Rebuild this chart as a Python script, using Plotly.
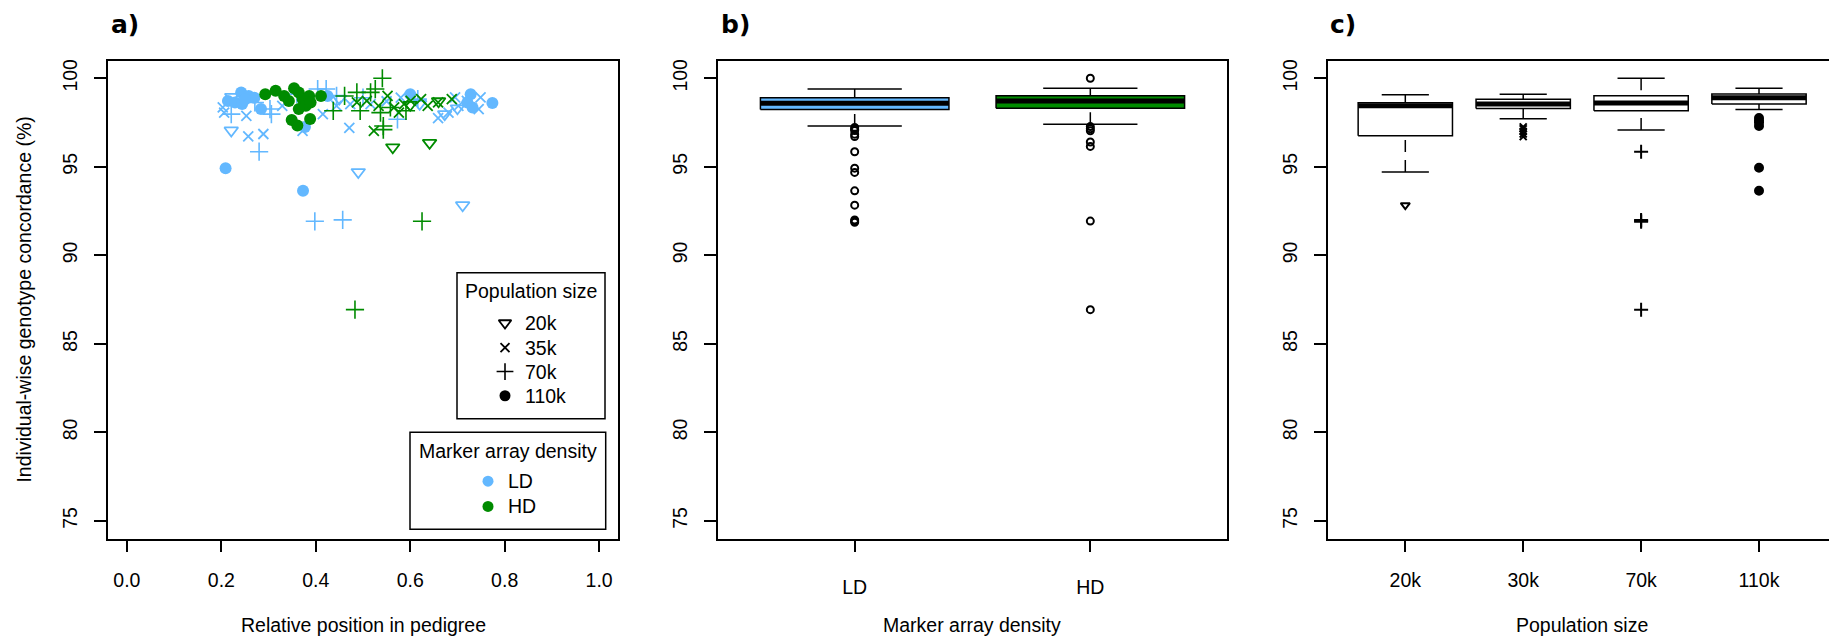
import plotly.graph_objects as go

W, H = 1829, 637

# ---------------- Panel a data (scatter) ----------------
ld_20k_x = [0.222, 0.221, 0.673, 0.490, 0.711, 0.450, 0.620, 0.700]
ld_20k_y = [98.95, 97.05, 97.97, 94.70, 92.83, 98.85, 98.55, 98.30]
ld_35k_x = [0.203, 0.206, 0.253, 0.257, 0.289, 0.329, 0.372, 0.415, 0.444, 0.471, 0.473,
            0.516, 0.659, 0.681, 0.695, 0.720, 0.745, 0.749, 0.702, 0.550, 0.580]
ld_35k_y = [98.35, 98.06, 97.87, 96.72, 96.85, 98.44, 97.02, 97.97, 98.44, 97.20, 98.54,
            98.54, 97.75, 98.06, 98.92, 98.72, 98.26, 98.92, 98.44, 98.70, 98.90]
ld_70k_x = [0.221, 0.271, 0.303, 0.306, 0.280, 0.404, 0.422, 0.444, 0.573, 0.616, 0.398,
            0.457, 0.360, 0.500]
ld_70k_y = [97.97, 98.63, 98.26, 97.97, 95.85, 99.39, 99.39, 99.00, 97.68, 98.82, 91.92,
            92.00, 99.10, 98.90]
ld_110k_x = [0.214, 0.229, 0.242, 0.258, 0.244, 0.284, 0.425, 0.600, 0.728, 0.721, 0.732,
             0.774, 0.377, 0.209, 0.373, 0.270, 0.250]
ld_110k_y = [98.72, 98.63, 99.20, 99.00, 98.54, 98.26, 99.00, 99.10, 99.10, 98.63, 98.35,
             98.60, 97.25, 94.92, 93.64, 98.90, 98.80]

hd_20k_x = [0.563, 0.641, 0.600, 0.660]
hd_20k_y = [96.10, 96.35, 98.50, 98.70]
hd_35k_x = [0.487, 0.508, 0.523, 0.552, 0.566, 0.587, 0.601, 0.623, 0.637, 0.659, 0.688,
            0.533, 0.576]
hd_35k_y = [98.63, 98.72, 97.02, 99.00, 98.35, 98.54, 98.72, 98.82, 98.44, 98.63, 98.82,
            98.44, 98.06]
hd_70k_x = [0.541, 0.437, 0.461, 0.487, 0.494, 0.516, 0.526, 0.537, 0.543, 0.543, 0.558,
            0.591, 0.625, 0.483]
hd_70k_y = [100.00, 98.16, 99.00, 99.20, 98.16, 99.20, 99.39, 98.06, 97.30, 97.10, 98.35,
            98.16, 91.92, 86.93]
hd_110k_x = [0.293, 0.315, 0.333, 0.354, 0.364, 0.372, 0.379, 0.386, 0.389, 0.411, 0.349,
             0.361, 0.388, 0.364, 0.343]
hd_110k_y = [99.10, 99.29, 99.00, 99.44, 99.20, 98.82, 98.44, 99.00, 98.63, 99.00, 97.64,
             97.33, 97.70, 98.26, 98.72]

x_ticks_a = [0.0, 0.2, 0.4, 0.6, 0.8, 1.0]
x_ticklabels_a = ["0.0", "0.2", "0.4", "0.6", "0.8", "1.0"]
y_ticks = [75, 80, 85, 90, 95, 100]

# ---------------- Panel b data (box stats) ----------------
b_categories = ["LD", "HD"]
b_lower = [97.30, 97.40]
b_q1 = [98.23, 98.31]
b_median = [98.59, 98.72]
b_q3 = [98.90, 99.01]
b_upper = [99.39, 99.44]
b_outliers = [
    [97.22, 97.12, 97.05, 96.84, 96.71, 95.85, 94.92, 94.68, 93.64, 92.83, 92.00, 91.92, 91.86],
    [100.00, 97.27, 97.14, 97.03, 96.40, 96.15, 91.93, 86.93],
]

# ---------------- Panel c data (box stats) ----------------
c_categories = ["20k", "30k", "70k", "110k"]
c_lower = [94.70, 97.71, 97.08, 98.23]
c_q1 = [96.75, 98.29, 98.16, 98.55]
c_median = [98.45, 98.55, 98.60, 98.90]
c_q3 = [98.62, 98.81, 99.01, 99.11]
c_upper = [99.07, 99.09, 100.00, 99.44]
c_outliers = [
    [92.83],
    [97.25, 97.15, 97.00, 96.85, 96.70],
    [95.85, 92.00, 91.95, 91.90, 86.93],
    [97.75, 97.60, 97.50, 97.30, 94.94, 93.64],
]

# ---------------- Styles ----------------
LD_COL = "#63B8FF"
HD_COL = "#008B00"
FONT = "Liberation Sans, Arial, sans-serif"
FS = 19.5
LW = 1.5

sym_style = {
    "20k": dict(symbol="triangle-down-open", size=12, line=dict(width=1.8)),
    "35k": dict(symbol="x-thin-open", size=10, line=dict(width=1.8)),
    "70k": dict(symbol="cross-thin-open", size=13, line=dict(width=1.6)),
    "110k": dict(symbol="circle", size=12, line=dict(width=0)),
}

fig = go.Figure()


def add_scatter(xs, ys, key, color):
    st = sym_style[key]
    fig.add_trace(go.Scatter(
        x=xs, y=ys, mode="markers", xaxis="x", yaxis="y", showlegend=False,
        marker=dict(symbol=st["symbol"], size=st["size"], color=color,
                    line=dict(width=st["line"]["width"], color=color)),
        hoverinfo="skip"))


for xs, ys, k in [(ld_20k_x, ld_20k_y, "20k"), (ld_35k_x, ld_35k_y, "35k"),
                  (ld_70k_x, ld_70k_y, "70k"), (ld_110k_x, ld_110k_y, "110k")]:
    add_scatter(xs, ys, k, LD_COL)
for xs, ys, k in [(hd_20k_x, hd_20k_y, "20k"), (hd_35k_x, hd_35k_y, "35k"),
                  (hd_70k_x, hd_70k_y, "70k"), (hd_110k_x, hd_110k_y, "110k")]:
    add_scatter(xs, ys, k, HD_COL)


def add_boxes(xa, ya, lower, q1, med, q3, upper, fills):
    for i in range(len(q1)):
        p = i + 1
        fig.add_trace(go.Scatter(
            x=[p - 0.4, p + 0.4, p + 0.4, p - 0.4, p - 0.4],
            y=[q1[i], q1[i], q3[i], q3[i], q1[i]],
            mode="lines", fill="toself", fillcolor=fills[i],
            line=dict(color="black", width=LW), xaxis=xa, yaxis=ya,
            showlegend=False, hoverinfo="skip"))
        fig.add_trace(go.Scatter(
            x=[p - 0.4, p + 0.4], y=[med[i], med[i]], mode="lines",
            line=dict(color="black", width=5), xaxis=xa, yaxis=ya,
            showlegend=False, hoverinfo="skip"))
        for a, b in [(lower[i], q1[i]), (upper[i], q3[i])]:
            fig.add_trace(go.Scatter(
                x=[p, p], y=[a, b], mode="lines",
                line=dict(color="black", width=LW, dash="12px,8px"),
                xaxis=xa, yaxis=ya, showlegend=False, hoverinfo="skip"))
            fig.add_trace(go.Scatter(
                x=[p - 0.2, p + 0.2], y=[a, a], mode="lines",
                line=dict(color="black", width=LW),
                xaxis=xa, yaxis=ya, showlegend=False, hoverinfo="skip"))


add_boxes("x2", "y2", b_lower, b_q1, b_median, b_q3, b_upper, [LD_COL, HD_COL])
for i, outs in enumerate(b_outliers):
    fig.add_trace(go.Scatter(
        x=[i + 1] * len(outs), y=outs, mode="markers", xaxis="x2", yaxis="y2",
        marker=dict(symbol="circle-open", size=7, color="black", line=dict(width=2, color="black")),
        showlegend=False, hoverinfo="skip"))

add_boxes("x3", "y3", c_lower, c_q1, c_median, c_q3, c_upper, ["white"] * 4)
c_syms = [dict(symbol="triangle-down-open", size=8),
          dict(symbol="x-thin-open", size=7),
          dict(symbol="cross-thin-open", size=10),
          dict(symbol="circle", size=8)]
for i, outs in enumerate(c_outliers):
    fig.add_trace(go.Scatter(
        x=[i + 1] * len(outs), y=outs, mode="markers", xaxis="x3", yaxis="y3",
        marker=dict(symbol=c_syms[i]["symbol"], size=c_syms[i]["size"], color="black",
                    line=dict(width=2, color="black")),
        showlegend=False, hoverinfo="skip"))

# ---------------- Legend (pixel overlay) ----------------
leg_pop_labels = ["20k", "35k", "70k", "110k"]
leg_pop_y = [322, 346.7, 370.7, 395]
for lab, yy in zip(leg_pop_labels, leg_pop_y):
    st = sym_style[lab]
    fig.add_trace(go.Scatter(
        x=[505], y=[yy], mode="markers", xaxis="x4", yaxis="y4",
        marker=dict(symbol=st["symbol"], size=st["size"] - 1, color="black",
                    line=dict(width=st["line"]["width"], color="black")),
        showlegend=False, hoverinfo="skip"))
leg_den_labels = ["LD", "HD"]
leg_den_cols = [LD_COL, HD_COL]
leg_den_y = [480.7, 506]
for col, yy in zip(leg_den_cols, leg_den_y):
    fig.add_trace(go.Scatter(
        x=[488], y=[yy], mode="markers", xaxis="x4", yaxis="y4",
        marker=dict(symbol="circle", size=11, color=col),
        showlegend=False, hoverinfo="skip"))


def px(xp):
    return xp / W


def py(yp):
    return 1 - yp / H


annotations = []
shapes = []


def text(x, y, s, size=FS, xanchor="center", angle=0, family=FONT):
    annotations.append(dict(
        x=px(x), y=py(y), xref="paper", yref="paper", text=s, showarrow=False,
        xanchor=xanchor, yanchor="middle", textangle=angle,
        font=dict(family=family, size=size, color="black")))


shapes.append(dict(type="rect", xref="paper", yref="paper", x0=px(457), x1=px(605),
                   y0=py(418), y1=py(271.7), line=dict(color="black", width=LW), fillcolor="white", layer="below"))
shapes.append(dict(type="rect", xref="paper", yref="paper", x0=px(410), x1=px(605.7),
                   y0=py(529), y1=py(431.7), line=dict(color="black", width=LW), fillcolor="white", layer="below"))
text(531, 290, "Population size")
for lab, yy in zip(leg_pop_labels, leg_pop_y):
    text(523, yy, lab, xanchor="left")
text(508, 450, "Marker array density")
for lab, yy in zip(leg_den_labels, leg_den_y):
    text(506, yy, lab, xanchor="left")

# panel titles
text(109, 23, "<b>a)</b>", size=25, xanchor="left", family="DejaVu Sans")
text(719, 23, "<b>b)</b>", size=25, xanchor="left", family="DejaVu Sans")
text(1328, 23, "<b>c)</b>", size=25, xanchor="left", family="DejaVu Sans")

# axis titles
text(24, 298.5, "Individual-wise genotype concordance (%)", angle=-90)
text(363, 625, "Relative position in pedigree")
text(972.5, 625, "Marker array density")
text(1582, 625, "Population size")

ydom = [py(538.3), py(58.7)]
common = dict(showgrid=False, zeroline=False, showline=True, linecolor="black",
              linewidth=LW, ticks="outside", ticklen=12, tickwidth=LW, tickcolor="black",
              tickfont=dict(family=FONT, size=FS, color="black"))

c_right = 0.34 + (W - 1327.5) / 117.9

fig.update_layout(
    width=W, height=H, margin=dict(l=0, r=0, t=0, b=0),
    paper_bgcolor="white", plot_bgcolor="rgba(0,0,0,0)",
    showlegend=False,
    xaxis=dict(domain=[px(108), px(618)], range=[-0.04, 1.04], tickvals=x_ticks_a,
               ticktext=x_ticklabels_a, mirror=True, anchor="y", ticklabelstandoff=11, **common),
    yaxis=dict(domain=ydom, range=[74, 101], tickvals=y_ticks, tickangle=-90, mirror=True,
               anchor="x", ticklabelstandoff=9, **common),
    xaxis2=dict(domain=[px(718), px(1227)], range=[0.42, 2.58], tickvals=[1, 2],
                ticktext=b_categories, mirror=True, anchor="y2", ticklabelstandoff=18, **common),
    yaxis2=dict(domain=ydom, range=[74, 101], tickvals=y_ticks, tickangle=-90, mirror=True,
                anchor="x2", ticklabelstandoff=9, **common),
    xaxis3=dict(domain=[px(1327.5), 1], range=[0.34, c_right], tickvals=[1, 2, 3, 4],
                ticktext=c_categories, mirror=True, anchor="y3", ticklabelstandoff=11, **common),
    yaxis3=dict(domain=ydom, range=[74, 101], tickvals=y_ticks, tickangle=-90, mirror=False,
                anchor="x3", ticklabelstandoff=9, **common),
    xaxis4=dict(domain=[0, 1], range=[0, W], visible=False, anchor="y4", fixedrange=True),
    yaxis4=dict(domain=[0, 1], range=[H, 0], visible=False, anchor="x4", fixedrange=True),
    annotations=annotations, shapes=shapes,
)

fig.write_html("out.html")
